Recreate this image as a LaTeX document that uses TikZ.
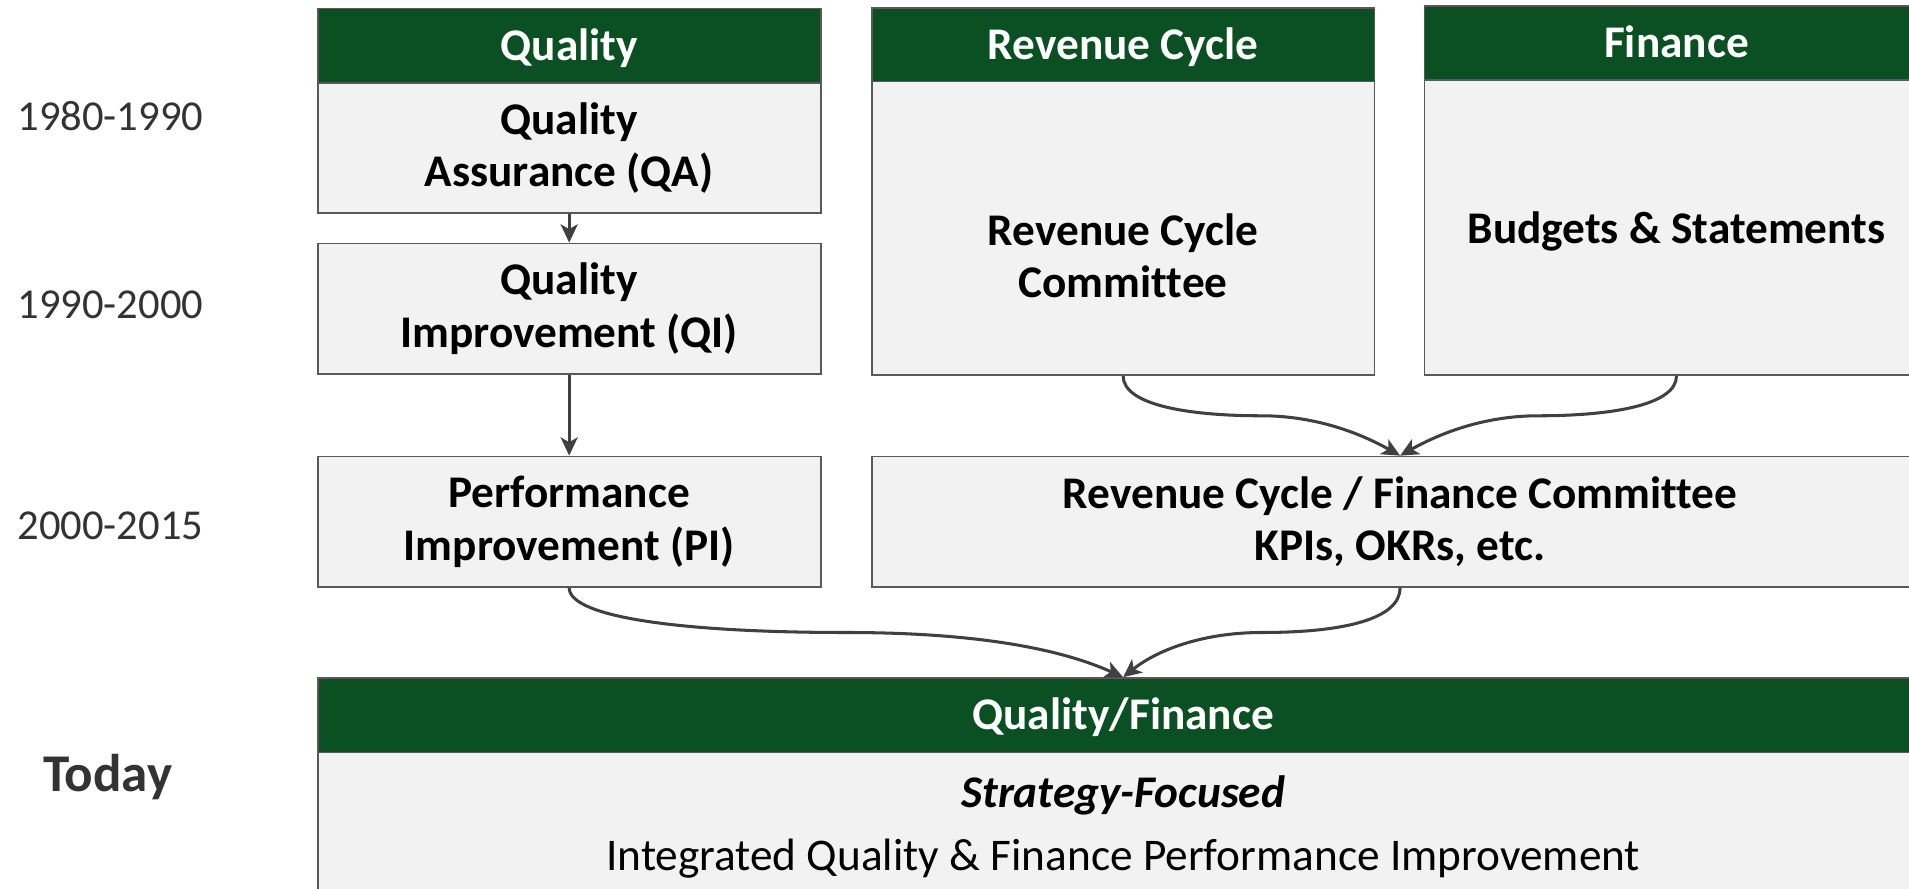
\documentclass[tikz,border=0pt]{standalone}
\usepackage{fontspec}
\setmainfont{Carlito}[Ligatures={NoCommon}]
\usetikzlibrary{arrows.meta,calc}
\definecolor{hdrgreen}{HTML}{0B5023}
\definecolor{boxfill}{HTML}{F2F2F2}
\definecolor{boxline}{HTML}{595959}
\definecolor{arrowcol}{HTML}{404040}
\definecolor{labelcol}{HTML}{333333}
\begin{document}
\begin{tikzpicture}[x=0.5pt,y=-0.5pt,
  hdr/.style={draw=boxline, line width=0.75pt, fill=hdrgreen, text=white,
    font=\fontsize{18.6}{21.5}\selectfont\bfseries, minimum width=206.5pt,
    minimum height=30.5pt, inner sep=0pt, text height=11.8pt, text depth=0pt},
  bodybox/.style={draw=boxline, line width=0.75pt, fill=boxfill,
    font=\fontsize{18.6}{21.5}\selectfont\bfseries, align=center,
    minimum width=206.5pt, inner sep=0pt},
  boldtxt/.style={font=\fontsize{18.6}{21.5}\selectfont\bfseries, align=center, inner sep=0pt},
  yearlbl/.style={text=labelcol, font=\fontsize{17.5}{21}\selectfont, anchor=west, inner sep=0pt},
  todaylbl/.style={text=labelcol, font=\fontsize{21.8}{24}\selectfont\bfseries, anchor=west, inner sep=0pt, text depth=0pt},
  conn/.style={draw=arrowcol, line width=1.25pt, -{Stealth[length=7.5pt,width=7pt,inset=2pt]}},
]
\clip (0,0) rectangle (1568,730);
\fill[white] (0,0) rectangle (1568,730);

% left labels
\node[yearlbl] (y1) at (14,95) {1980-1990};
\node[yearlbl] (y2) at (14,250) {1990-2000};
\node[yearlbl] (y3) at (14,432) {2000-2015};
\node[todaylbl] (y4) at (35,635) {Today};

% Quality column
\node[hdr] (qh) at (467.5,37.5) {Quality};
\node[bodybox, minimum height=53.5pt] (qa) at (467.5,121.5) {Quality\\Assurance (QA)};
\node[bodybox, minimum height=53.5pt] (qi) at (467.5,253.5) {Quality\\Improvement (QI)};
\node[bodybox, minimum height=53.5pt] (pi) at (467.5,428.5) {Performance\\Improvement (PI)};

% Revenue Cycle column
\node[hdr] (rh) at (922.5,37) {Revenue Cycle};
\node[bodybox, minimum height=120.5pt] (rc) at (922.5,187.5) {};
\node[boldtxt] (rctext) at (922.5,210) {Revenue Cycle\\Committee};

% Finance column
\node[hdr, minimum width=207pt] (fh) at (1377,35.5) {Finance};
\node[bodybox, minimum width=207pt, minimum height=121pt, text depth=0pt] (fb) at (1377,187) {Budgets \& Statements};

% Combined committee
\node[bodybox, minimum width=434pt, minimum height=53.5pt] (rcf) at (1150,428.5) {Revenue Cycle / Finance Committee\\KPIs, OKRs, etc.};

% Quality/Finance
\node[hdr, minimum width=661.5pt] (qfh) at (922.5,587.5) {Quality/Finance};
\node[bodybox, minimum width=661.5pt, minimum height=71pt] (qfb) at (922.5,689) {};
\node[font=\fontsize{18.6}{21.5}\selectfont\bfseries\itshape, inner sep=0pt] (qft1) at (922.5,653) {Strategy-Focused};
\node[font=\fontsize{18.6}{21.5}\selectfont, inner sep=0pt] (qft2) at (922.5,705) {Integrated Quality \& Finance Performance Improvement};

% connectors
\draw[conn] (qa.south) -- (qi.north);
\draw[conn] (qi.south) -- (pi.north);
\draw[conn] (rc.south) .. controls +(0,24) and +(-60,0) .. ($(rc.south)!0.5!(rcf.north)$)
  .. controls +(45,0) and +(-32,-18) .. (rcf.north);
\draw[conn] (fb.south) .. controls +(0,24) and +(60,0) .. ($(fb.south)!0.5!(rcf.north)$)
  .. controls +(-45,0) and +(32,-18) .. (rcf.north);
\draw[conn] (pi.south) .. controls +(0,25) and +(-130,0) .. ($(pi.south)!0.5!(qfh.north)$)
  .. controls +(100,0) and +(-55,-25) .. (qfh.north);
\draw[conn] (rcf.south) .. controls +(0,25) and +(70,0) .. ($(rcf.south)!0.5!(qfh.north)$)
  .. controls +(-45,0) and +(30,-24) .. (qfh.north);
\end{tikzpicture}
\end{document}
